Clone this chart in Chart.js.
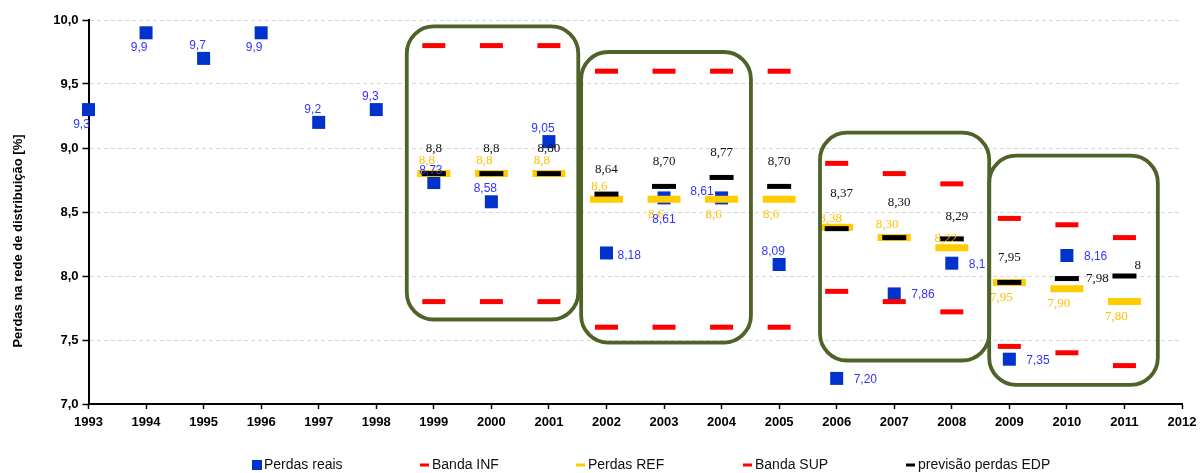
<!DOCTYPE html>
<html>
<head>
<meta charset="utf-8">
<script src="https://cdn.jsdelivr.net/npm/chart.js@4/dist/chart.umd.min.js"></script>
<style>
  html, body { margin: 0; padding: 0; background: #fff; }
  #c { display: block; }
</style>
</head>
<body>
<canvas id="c" width="1200" height="473"></canvas>
<script>
// ---- data -------------------------------------------------------------
const years = [1993, 1994, 1995, 1996, 1997, 1998, 1999, 2000, 2001, 2002,
               2003, 2004, 2005, 2006, 2007, 2008, 2009, 2010, 2011];

const perdasReais = [9.3, 9.9, 9.7, 9.9, 9.2, 9.3, 8.73, 8.58, 9.05, 8.18,
                     8.61, 8.61, 8.09, 7.20, 7.86, 8.1, 7.35, 8.16, null];
const bandaInf    = [null, null, null, null, null, null, 7.8, 7.8, 7.8, 7.6,
                     7.6, 7.6, 7.6, 7.88, 7.80, 7.72, 7.45, 7.40, 7.30];
const perdasRef   = [null, null, null, null, null, null, 8.8, 8.8, 8.8, 8.6,
                     8.6, 8.6, 8.6, 8.38, 8.30, 8.22, 7.95, 7.90, 7.80];
const bandaSup    = [null, null, null, null, null, null, 9.8, 9.8, 9.8, 9.6,
                     9.6, 9.6, 9.6, 8.88, 8.80, 8.72, 8.45, 8.40, 8.30];
const previsaoEdp = [null, null, null, null, null, null, 8.8, 8.8, 8.80, 8.64,
                     8.70, 8.77, 8.70, 8.37, 8.30, 8.29, 7.95, 7.98, 8];

// decimals shown in each value label
const realDecimals = [1, 1, 1, 1, 1, 1, 2, 2, 2, 2, 2, 2, 2, 2, 2, 1, 2, 2, null];
const refDecimals  = [null, null, null, null, null, null, 1, 1, 1, 1, 1, 1, 1, 2, 2, 2, 2, 2, 2];
const edpDecimals  = [null, null, null, null, null, null, 1, 1, 2, 2, 2, 2, 2, 2, 2, 2, 2, 2, 0];

// where each value label sits around its mark
const realPlace = ['bl', 'bl', 'al', 'bl', 'al', 'al', 'a', 'al', 'al', 'rn',
                   'b', 'l', 'al', 'r', 'r', 'r', 'r', 'r', null];
const refPlace  = [null, null, null, null, null, null, 'al', 'al', 'al', 'al',
                   'bl', 'bl', 'bl', 'an', 'al', 'an', 'bl', 'bl', 'bl'];
const edpPlace  = [null, null, null, null, null, null, 'a', 'a', 'a', 'a',
                   'a', 'a', 'a', 'ah', 'ah', 'ar', 'a', 'r', 'ur'];

// regulatory periods framed on the plot: [fromYear, toYear, top, bottom]
const periods = [
  [1998.53, 2001.51, 9.95, 7.66],
  [2001.56, 2004.51, 9.75, 7.48],
  [2005.71, 2008.65, 9.12, 7.34],
  [2008.65, 2011.58, 8.94, 7.15]
];

const yTitle = 'Perdas na rede de distribuição [%]';

// ---- helpers ------------------------------------------------------------
const toPoints = arr => years.map((yr, i) => ({ x: yr, y: arr[i] })).filter(p => p.y !== null);
const fmt = (v, d) => v.toFixed(d).replace('.', ',');

const SANS = "'Liberation Sans', Arial, sans-serif";
const SERIF = "'Liberation Serif', 'Times New Roman', serif";

const PLACE = {
  real: { bl: [-7, 15, 'center'], al: [-6, -13, 'center'], a: [-3, -12, 'center'],
          b: [0, 22, 'center'], r: [17, 1, 'left'], rn: [11, 3, 'left'], l: [-8, -6, 'right'] },
  ref:  { al: [-7, -13, 'center'], an: [-6, -9, 'center'], bl: [-8, 15, 'center'] },
  edp:  { a: [0, -25, 'center'], ah: [5, -35, 'center'], ar: [5, -22, 'center'],
          r: [19, 0, 'left'], ur: [10, -10, 'left'] }
};

const labelSets = [
  { ds: 2, values: perdasRef,   decimals: refDecimals,  place: refPlace,  map: PLACE.ref,
    font: '13px ' + SERIF, color: '#ffc000' },
  { ds: 4, values: previsaoEdp, decimals: edpDecimals,  place: edpPlace,  map: PLACE.edp,
    font: '13px ' + SERIF, color: '#111111' },
  { ds: 0, values: perdasReais, decimals: realDecimals, place: realPlace, map: PLACE.real,
    font: '12px ' + SANS, color: '#3333ff' }
];

// value labels, drawn from each dataset's element positions
const valueLabels = {
  id: 'valueLabels',
  afterDatasetsDraw(chart) {
    const ctx = chart.ctx;
    ctx.save();
    ctx.textBaseline = 'middle';
    labelSets.forEach(set => {
      const meta = chart.getDatasetMeta(set.ds);
      ctx.font = set.font;
      ctx.fillStyle = set.color;
      let k = 0;
      years.forEach((yr, i) => {
        const v = set.values[i];
        if (v === null) return;
        const el = meta.data[k++];
        const code = set.place[i];
        if (!code) return;
        const [dx, dy, align] = set.map[code];
        ctx.textAlign = align;
        ctx.fillText(fmt(v, set.decimals[i]), el.x + dx, el.y + dy);
      });
    });
    ctx.restore();
  }
};

function roundRect(ctx, x1, y1, x2, y2, r) {
  ctx.beginPath();
  ctx.moveTo(x1 + r, y1);
  ctx.lineTo(x2 - r, y1);
  ctx.arcTo(x2, y1, x2, y1 + r, r);
  ctx.lineTo(x2, y2 - r);
  ctx.arcTo(x2, y2, x2 - r, y2, r);
  ctx.lineTo(x1 + r, y2);
  ctx.arcTo(x1, y2, x1, y2 - r, r);
  ctx.lineTo(x1, y1 + r);
  ctx.arcTo(x1, y1, x1 + r, y1, r);
  ctx.closePath();
}

// rounded frames around each regulatory period
const periodFrames = {
  id: 'periodFrames',
  afterDatasetsDraw(chart) {
    const { ctx, scales: { x, y } } = chart;
    ctx.save();
    ctx.strokeStyle = '#4f6228';
    ctx.lineWidth = 3.8;
    periods.forEach(([a, b, top, bottom]) => {
      roundRect(ctx, x.getPixelForValue(a), y.getPixelForValue(top),
                x.getPixelForValue(b), y.getPixelForValue(bottom), 27);
      ctx.stroke();
    });
    ctx.restore();
  }
};

// legend row and rotated axis title
const legendSlots = [252, 420, 576, 743, 906];
const sideDecor = {
  id: 'sideDecor',
  afterDraw(chart) {
    const ctx = chart.ctx;
    ctx.save();
    // axis title
    ctx.translate(18, 241);
    ctx.rotate(-Math.PI / 2);
    ctx.font = 'bold 13px ' + SANS;
    ctx.fillStyle = '#000';
    ctx.textAlign = 'center';
    ctx.textBaseline = 'middle';
    ctx.fillText(yTitle, 0, 0);
    ctx.restore();

    ctx.save();
    const ly = 465;
    ctx.font = '14px ' + SANS;
    ctx.textBaseline = 'middle';
    ctx.textAlign = 'left';
    chart.data.datasets.forEach((ds, i) => {
      const lx = legendSlots[i];
      if (ds.pointStyle === 'rect') {
        ctx.fillStyle = ds.pointBackgroundColor;
        ctx.fillRect(lx, ly - 5, 10, 10);
      } else {
        ctx.fillStyle = ds.pointBorderColor;
        ctx.fillRect(lx, ly - 1.5, 9, 3);
      }
      ctx.fillStyle = '#111';
      ctx.fillText(ds.label, lx + 12, ly + 0.5);
    });
    ctx.restore();
  }
};

Chart.defaults.font.family = SANS;

const dashSet = (label, arr, color, radius, width, order) => ({
  label, data: toPoints(arr), showLine: false, order, clip: false,
  pointStyle: 'line', pointRadius: radius, pointHoverRadius: radius,
  pointBorderColor: color, pointBackgroundColor: color,
  pointBorderWidth: width, pointHoverBorderWidth: width
});

new Chart(document.getElementById('c'), {
  type: 'scatter',
  data: {
    datasets: [
      { label: 'Perdas reais', data: toPoints(perdasReais), showLine: false, order: 4, clip: false,
        pointStyle: 'rect', pointRadius: 9.2, pointHoverRadius: 9.2,
        pointBackgroundColor: '#0033cc', pointBorderColor: '#0033cc',
        pointBorderWidth: 0, pointHoverBorderWidth: 0 },
      dashSet('Banda INF', bandaInf, '#ff0000', 11.5, 5, 3),
      dashSet('Perdas REF', perdasRef, '#ffcc00', 16.5, 7, 2),
      dashSet('Banda SUP', bandaSup, '#ff0000', 11.5, 5, 3),
      dashSet('previsão perdas EDP', previsaoEdp, '#000000', 12, 5, 1)
    ]
  },
  options: {
    responsive: false,
    animation: false,
    events: [],
    devicePixelRatio: 1,
    layout: { autoPadding: false, padding: { top: 20, right: 18, bottom: 0, left: 0 } },
    plugins: { legend: { display: false }, tooltip: { enabled: false } },
    scales: {
      x: {
        type: 'linear', min: 1993, max: 2012,
        ticks: { stepSize: 1, autoSkip: false, maxRotation: 0, padding: 6, color: '#000',
                 font: { family: SANS, size: 13, weight: 'bold' }, callback: v => String(v) },
        grid: { drawOnChartArea: false, drawTicks: true, tickLength: 5, tickColor: '#000', tickWidth: 1.5 },
        border: { display: true, color: '#000', width: 2 },
        afterFit: s => { s.height = 69; s.paddingLeft = 0; s.paddingRight = 0; }
      },
      y: {
        min: 7, max: 10,
        ticks: { stepSize: 0.5, padding: 4, color: '#000',
                 font: { family: SANS, size: 13, weight: 'bold' },
                 callback: v => fmt(v, 1) },
        grid: { color: '#d6d6d6', lineWidth: 1, tickLength: 6, tickColor: '#000',
                tickWidth: 1.5, tickBorderDash: [] },
        border: { display: true, color: '#000', width: 2, dash: [4, 3] },
        afterFit: s => { s.width = 88.5; s.paddingTop = 0; s.paddingBottom = 0; }
      }
    }
  },
  plugins: [valueLabels, periodFrames, sideDecor]
});
</script>
</body>
</html>
